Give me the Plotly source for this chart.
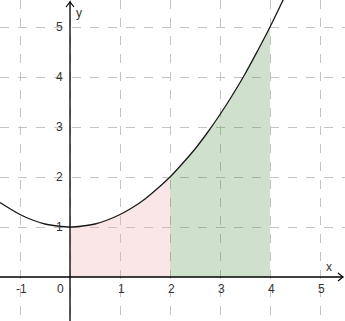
import plotly.graph_objects as go

# Curve points
curve_x = [-1.4, -1.0, -0.75, -0.5, -0.25, 0.0, 0.25, 0.5, 0.75, 1.0, 1.25, 1.5, 1.75, 2.0,
           2.25, 2.5, 2.75, 3.0, 3.25, 3.5, 3.75, 4.0, 4.3]
curve_y = [1.49, 1.25, 1.14, 1.06, 1.02, 1.00, 1.02, 1.06, 1.14, 1.25, 1.39, 1.56, 1.77, 2.00,
           2.27, 2.56, 2.89, 3.25, 3.64, 4.06, 4.52, 5.00, 5.62]

pink_range = (0.0, 2.0)
green_range = (2.0, 4.0)

x_ticks = [-1, 0, 1, 2, 3, 4, 5]
x_tick_labels = ["-1", "0", "1", "2", "3", "4", "5"]
y_ticks = [1, 2, 3, 4, 5]
y_tick_labels = ["1", "2", "3", "4", "5"]

def subset(lo, hi):
    xs, ys = [], []
    for a, b in zip(curve_x, curve_y):
        if lo <= a <= hi:
            xs.append(a); ys.append(b)
    return xs, ys

fig = go.Figure()
px_, py_ = subset(*pink_range)
gx_, gy_ = subset(*green_range)
fig.add_trace(go.Scatter(x=px_, y=py_, mode="lines", fill="tozeroy",
                         line=dict(width=0, shape="spline"),
                         fillcolor="rgba(240,170,175,0.30)", hoverinfo="skip"))
fig.add_trace(go.Scatter(x=gx_, y=gy_, mode="lines", fill="tozeroy",
                         line=dict(width=0, shape="spline"),
                         fillcolor="rgba(70,140,60,0.26)", hoverinfo="skip"))
fig.add_trace(go.Scatter(x=curve_x, y=curve_y, mode="lines",
                         line=dict(color="#1a1a1a", width=1.3, shape="spline"),
                         hoverinfo="skip"))

fig.update_layout(
    width=345, height=321,
    margin=dict(l=0, r=0, t=0, b=0),
    paper_bgcolor="white", plot_bgcolor="white",
    showlegend=False,
    xaxis=dict(range=[-1.4, 5.5], tickvals=x_ticks, showticklabels=False,
               showgrid=True, gridcolor="#c4c4c4", griddash="dash", gridwidth=1,
               zeroline=False, showline=False, fixedrange=True),
    yaxis=dict(range=[-0.88, 5.54], tickvals=y_ticks, showticklabels=False,
               showgrid=True, gridcolor="#c4c4c4", griddash="dash", gridwidth=1,
               zeroline=False, showline=False, fixedrange=True),
)

# axes lines
fig.add_shape(type="line", xref="x", yref="paper", x0=0, x1=0, y0=0, y1=0.995,
              line=dict(color="black", width=1.3), layer="above")
fig.add_shape(type="line", xref="paper", yref="y", x0=0, x1=0.995, y0=0, y1=0,
              line=dict(color="black", width=1.3), layer="above")
# arrow heads
fig.add_shape(type="path", xref="x", yref="paper", xsizemode="pixel", ysizemode="pixel",
              xanchor=0, yanchor=1, path="M -4,-7 L 0,-2 L 4,-7",
              line=dict(color="black", width=1.2), layer="above")
fig.add_shape(type="path", xref="paper", yref="y", xsizemode="pixel", ysizemode="pixel",
              xanchor=1, yanchor=0, path="M -7,4 L -2,0 L -7,-4",
              line=dict(color="black", width=1.2), layer="above")

font = dict(family="Liberation Sans, Arial, sans-serif", size=12, color="#333333")
for v, t in zip(x_ticks, x_tick_labels):
    fig.add_annotation(x=v, y=0, xref="x", yref="y", text=t, showarrow=False,
                       xanchor="center", yanchor="top",
                       xshift=(-10 if v == 0 else 1), yshift=-3, font=font)
for v, t in zip(y_ticks, y_tick_labels):
    fig.add_annotation(x=0, y=v, xref="x", yref="y", text=t, showarrow=False,
                       xanchor="right", yanchor="middle", xshift=-5, font=font)
fig.add_annotation(x=0, y=1, xref="x", yref="paper", text="y", showarrow=False,
                   xanchor="left", yanchor="top", xshift=4, yshift=-4, font=font)
fig.add_annotation(x=1, y=0, xref="paper", yref="y", text="x", showarrow=False,
                   xanchor="right", yanchor="bottom", xshift=-11, yshift=1, font=font)

fig.write_html("out.html")
